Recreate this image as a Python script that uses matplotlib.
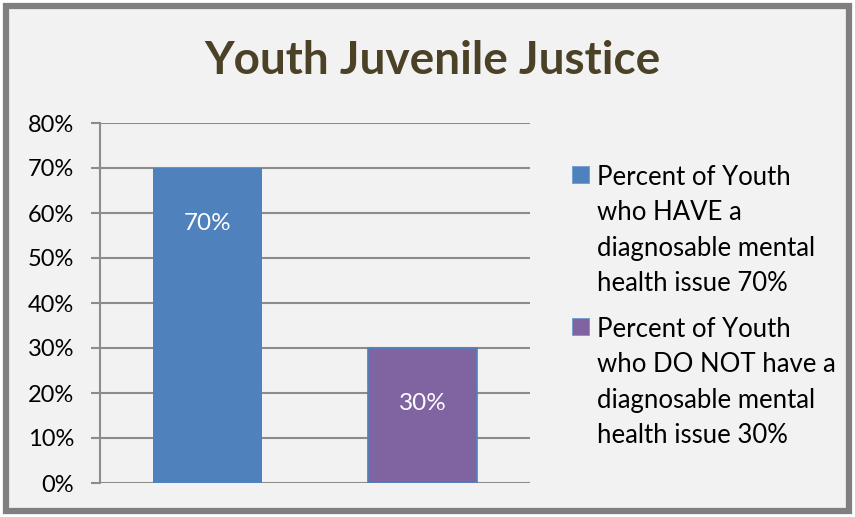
import matplotlib.pyplot as plt
from matplotlib.patches import Rectangle

# chart data
categories = ['HAVE', 'DO NOT have']
values = [0.70, 0.30]
bar_labels = ['70%', '30%']
legend_labels = [
    'Percent of Youth\nwho HAVE a\ndiagnosable mental\nhealth issue 70%',
    'Percent of Youth\nwho DO NOT have a\ndiagnosable mental\nhealth issue 30%',
]
yticks = [0, 0.1, 0.2, 0.3, 0.4, 0.5, 0.6, 0.7, 0.8]
ytick_labels = ['0%', '10%', '20%', '30%', '40%', '50%', '60%', '70%', '80%']

colors = ['#4f81bd', '#8064a2']
grid_c = '#8c8c8c'
plt.rcParams['font.family'] = ['Lato', 'DejaVu Sans']

fig = plt.figure(figsize=(8.55, 5.17), dpi=100, facecolor='white')

# outer frame like the Excel chart area
frame = Rectangle((6 / 855, 6 / 517), 843 / 855, 505 / 517, transform=fig.transFigure,
                  facecolor='#f2f2f2', edgecolor='#7f7f7f', linewidth=4.5, zorder=-5)
fig.patches.append(frame)

fig.text(432 / 855, 1 - 61 / 517, 'Youth Juvenile Justice', ha='center', va='center',
         fontsize=33, fontweight='bold', color='#4a4127')

ax = fig.add_axes([100 / 855, 1 - 483 / 517, 430 / 855, 360 / 517])
ax.set_facecolor('none')
ax.set_zorder(2)

x = range(len(values))
bars = ax.bar(x, values, width=0.51, color=colors, zorder=3)
bars[1].set_edgecolor('#4f81bd')
bars[1].set_linewidth(1.2)

for i, (v, lab) in enumerate(zip(values, bar_labels)):
    ax.annotate(lab, (i, v), xytext=(0, -40), textcoords='offset points',
                ha='center', va='center', color='white', fontsize=17.5, zorder=4)

ax.set_xlim(-0.5, 1.5)
ax.set_ylim(0, 0.8)
ax.set_yticks(yticks)
ax.set_yticklabels(ytick_labels, fontsize=17, color='black')
ax.set_xticks([])
ax.yaxis.grid(True, color=grid_c, linewidth=1.5, zorder=1)
ax.set_axisbelow(True)
ax.tick_params(axis='y', length=6.5, width=1.5, color=grid_c, pad=12)
for s in ['top', 'right', 'bottom']:
    ax.spines[s].set_visible(False)
ax.spines['left'].set_color(grid_c)
ax.spines['left'].set_linewidth(1.5)

# legend drawn by hand so the marker sits beside the first line
for i, (lab, c) in enumerate(zip(legend_labels, colors)):
    top = 175 + i * 152
    sq = Rectangle((572 / 855, 1 - (top + 8) / 517), 17 / 855, 17 / 517,
                   transform=fig.transFigure, facecolor=c, edgecolor='#6f9ad0',
                   linewidth=0.6, zorder=3)
    fig.patches.append(sq)
    fig.text(597 / 855, 1 - (top - 10) / 517, lab, ha='left', va='top',
             fontsize=18.5, linespacing=1.52, color='black')

fig.savefig('out.png', dpi=100, facecolor='white')
